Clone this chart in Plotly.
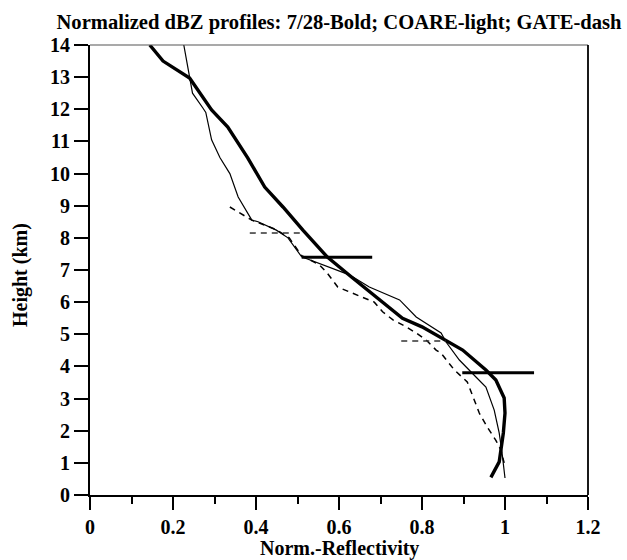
import plotly.graph_objects as go

# 7/28 profile (bold)
bold_x = [0.144, 0.176, 0.24, 0.293, 0.332, 0.38, 0.421, 0.465, 0.513, 0.572, 0.633, 0.697, 0.753, 0.80, 0.858, 0.898, 0.954, 0.978, 0.998, 1.0, 0.996, 0.99, 0.986, 0.966]
bold_y = [14.0, 13.5, 12.97, 11.98, 11.45, 10.49, 9.58, 8.96, 8.24, 7.4, 6.75, 6.07, 5.5, 5.23, 4.82, 4.51, 3.89, 3.58, 3.02, 2.55, 1.93, 1.3, 1.03, 0.55]

# COARE profile (light)
coare_x = [0.226, 0.24, 0.247, 0.272, 0.279, 0.293, 0.313, 0.337, 0.357, 0.39, 0.405, 0.449, 0.477, 0.51, 0.625, 0.673, 0.746, 0.786, 0.846, 0.858, 0.89, 0.93, 0.954, 0.974, 0.986, 0.993, 1.0]
coare_y = [14.0, 13.0, 12.5, 12.04, 11.9, 11.05, 10.5, 10.0, 9.27, 8.55, 8.5, 8.24, 8.0, 7.41, 6.85, 6.47, 6.07, 5.54, 5.04, 4.76, 4.2, 3.67, 3.36, 2.64, 1.93, 1.3, 0.53]

# GATE profile (dash)
gate_x = [0.337, 0.39, 0.45, 0.48, 0.51, 0.553, 0.572, 0.597, 0.625, 0.657, 0.685, 0.705, 0.73, 0.762, 0.786, 0.81, 0.834, 0.846, 0.878, 0.909, 0.918, 0.938, 0.957, 0.978, 0.99, 0.998]
gate_y = [8.96, 8.55, 8.25, 8.0, 7.45, 7.16, 6.9, 6.47, 6.32, 6.16, 6.0, 5.7, 5.45, 5.23, 5.04, 4.82, 4.51, 4.41, 3.89, 3.52, 3.2, 2.55, 2.12, 1.7, 1.4, 1.0]

# horizontal bars (7/28 bold)
bold_bar_y = [7.4, 3.8]
bold_bar_x0 = [0.51, 0.897]
bold_bar_x1 = [0.68, 1.07]

# horizontal bars (GATE dashed)
gate_bar_y = [8.15, 4.79]
gate_bar_x0 = [0.385, 0.75]
gate_bar_x1 = [0.517, 0.858]

x_ticks = [0, 0.2, 0.4, 0.6, 0.8, 1, 1.2]
x_ticklabels = ["0", "0.2", "0.4", "0.6", "0.8", "1", "1.2"]
y_ticks = list(range(0, 15))

FONT = "Liberation Serif"
FS = 20

fig = go.Figure()

fig.add_trace(go.Scatter(x=coare_x, y=coare_y, mode="lines",
                         line=dict(color="black", width=1.2), showlegend=False))
fig.add_trace(go.Scatter(x=gate_x, y=gate_y, mode="lines",
                         line=dict(color="black", width=1.5, dash="6px,5px"), showlegend=False))
fig.add_trace(go.Scatter(x=bold_x, y=bold_y, mode="lines",
                         line=dict(color="black", width=3.4), showlegend=False))

bx, by = [], []
for y, a, b in zip(bold_bar_y, bold_bar_x0, bold_bar_x1):
    bx += [a, b, None]
    by += [y, y, None]
fig.add_trace(go.Scatter(x=bx, y=by, mode="lines",
                         line=dict(color="black", width=3), showlegend=False))

gx, gy = [], []
for y, a, b in zip(gate_bar_y, gate_bar_x0, gate_bar_x1):
    gx += [a, b, None]
    gy += [y, y, None]
fig.add_trace(go.Scatter(x=gx, y=gy, mode="lines",
                         line=dict(color="#333333", width=1.5, dash="6px,5px"), showlegend=False))

L, R, T, B = 90, 39, 45, 65
PW = 627 - L - R
PH = 560 - T - B

fig.update_layout(
    width=627, height=560,
    margin=dict(l=L, r=R, t=T, b=B),
    plot_bgcolor="white", paper_bgcolor="white",
    title=dict(text="Normalized dBZ profiles: 7/28-Bold; COARE-light; GATE-dash",
               x=339 / 627, xanchor="center", y=1 - 22 / 560, yanchor="middle", yref="container",
               font=dict(family=FONT, size=20.6, color="black", weight="bold")),
    xaxis=dict(range=[0, 1.2], tickvals=x_ticks, ticktext=x_ticklabels,
               showgrid=False, zeroline=False, showline=True, linecolor="black", linewidth=2,
               ticks="outside", ticklen=13, tickwidth=1.5, tickcolor="black",
               minor=dict(dtick=0.1, ticks="outside", ticklen=7, tickwidth=1.5, tickcolor="black"),
               tickfont=dict(family=FONT, size=FS, color="black", weight="bold"),
               automargin=False),
    yaxis=dict(range=[0, 14], tickvals=y_ticks,
               showgrid=False, zeroline=False, showline=True, linecolor="black", linewidth=2,
               ticks="outside", ticklen=14, tickwidth=1.5, tickcolor="black",
               tickfont=dict(family=FONT, size=FS, color="black", weight="bold"),
               automargin=False),
    annotations=[
        dict(text="Norm.-Reflectivity", xref="paper", yref="paper",
             x=(339 - L) / PW, y=-(548 - (T + PH)) / PH, xanchor="center", yanchor="middle",
             showarrow=False, font=dict(family=FONT, size=FS, color="black", weight="bold")),
        dict(text="Height (km)", xref="paper", yref="paper", textangle=-90,
             x=(20 - L) / PW, y=(T + PH - 275) / PH, xanchor="center", yanchor="middle",
             showarrow=False, font=dict(family=FONT, size=FS, color="black", weight="bold")),
    ],
    shapes=[
        dict(type="line", xref="paper", yref="paper", x0=0, x1=1, y0=1, y1=1,
             line=dict(color="#555555", width=1.2)),
        dict(type="line", xref="paper", yref="paper", x0=1, x1=1, y0=0, y1=1,
             line=dict(color="black", width=1.8)),
    ],
)

fig.write_html("out.html", config={"displayModeBar": False},
               post_script="document.body.style.margin='0px';document.body.style.padding='0px';")
